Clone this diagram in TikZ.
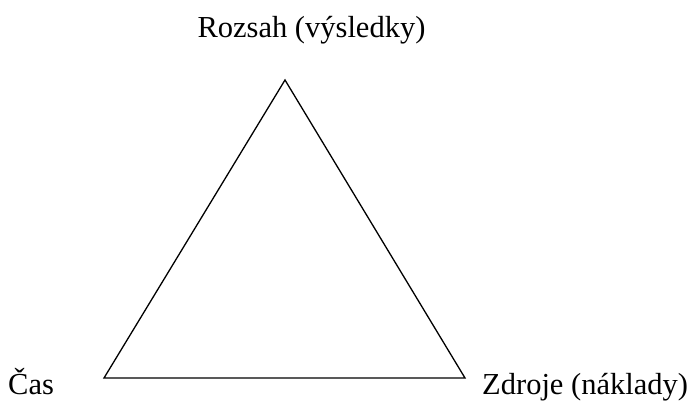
\documentclass[tikz,border=0pt]{standalone}
\usepackage{fontspec}
\setmainfont{Liberation Serif}
\begin{document}
\begin{tikzpicture}[x=1pt,y=-1pt,
  lbl/.style={font=\fontsize{30.5}{34}\selectfont, inner sep=0pt, anchor=base},
  edge/.style={draw=black, line width=1.3pt, line join=miter}]
\useasboundingbox (0,0) rectangle (700,401);
\coordinate (top) at (285,80);
\coordinate (bl) at (104,378);
\coordinate (br) at (465,378);
\draw[edge] (top) -- (bl) -- (br) -- cycle;
\node[lbl] (rozsah) at (311.5,38) {Rozsah (výsledky)};
\node[lbl, anchor=base west] (cas) at (8,394) {Čas};
\node[lbl, anchor=base west] (zdroje) at (482,394) {Zdroje (náklady)};
\end{tikzpicture}
\end{document}
